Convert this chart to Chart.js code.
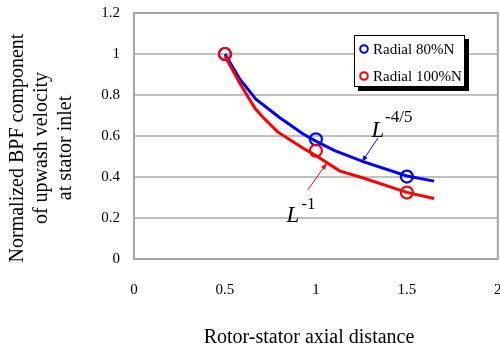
<!DOCTYPE html>
<html>
<head>
<meta charset="utf-8">
<script src="https://cdn.jsdelivr.net/npm/chart.js@4.4.1/dist/chart.umd.min.js"></script>
<style>
  html, body { margin: 0; padding: 0; background: #fff; overflow: hidden; }
  #wrap { width: 500px; height: 350px; overflow: hidden; }
</style>
</head>
<body>
<div id="wrap"><canvas id="chart" width="506" height="350"></canvas></div>
<script>
const blueX = [0.5, 0.58, 0.67, 0.80, 0.93, 1.0, 1.1, 1.26, 1.5, 1.65];
const blueY = [1.0, 0.88, 0.78, 0.69, 0.61, 0.575, 0.53, 0.475, 0.405, 0.38];
const redX = [0.5, 0.58, 0.665, 0.70, 0.79, 0.93, 1.0, 1.13, 1.26, 1.5, 1.65];
const redY = [0.99, 0.86, 0.735, 0.70, 0.62, 0.54, 0.505, 0.43, 0.395, 0.325, 0.295];

// measured points
const markX = [0.5, 1.0, 1.5];
const blueMarkY = [1.0, 0.584, 0.402];
const redMarkY = [1.0, 0.528, 0.324];

const legendLabels = ['Radial 80%N', 'Radial 100%N'];
const xTicks = [0, 0.5, 1, 1.5, 2];
const yTitle = ['Normalized BPF component', 'of upwash velocity', 'at stator inlet'];
const xTitle = 'Rotor-stator axial distance';

const BLUE = '#0000ff';
const RED = '#ff0000';
const SERIF = '"Liberation Serif", "Times New Roman", serif';

const pts = (xs, ys) => xs.map((x, i) => ({ x, y: ys[i] }));
const fmt = (v) => String(+Number(v).toFixed(1));
const noPad = (s) => { s.paddingLeft = 0; s.paddingRight = 0; s.paddingTop = 0; s.paddingBottom = 0; };

const extras = {
  id: 'extras',
  beforeDatasetsDraw(chart) {
    const { ctx, chartArea: a } = chart;
    ctx.save();
    ctx.strokeStyle = '#a6a6a6';
    ctx.lineWidth = 2;
    ctx.strokeRect(a.left, a.top, a.right - a.left, a.bottom - a.top);
    ctx.restore();
  },
  afterDraw(chart) {
    const { ctx } = chart;
    const xs = chart.scales.x, ys = chart.scales.y;
    const px = (v) => xs.getPixelForValue(v);
    const py = (v) => ys.getPixelForValue(v);
    ctx.save();

    // arrows
    const arrow = (x1, y1, x2, y2, color) => {
      const ax = px(x1), ay = py(y1), bx = px(x2), by = py(y2);
      ctx.strokeStyle = color;
      ctx.fillStyle = color;
      ctx.lineWidth = 1;
      ctx.beginPath();
      ctx.moveTo(ax, ay);
      ctx.lineTo(bx, by);
      ctx.stroke();
      const ang = Math.atan2(by - ay, bx - ax);
      ctx.beginPath();
      ctx.moveTo(bx, by);
      ctx.lineTo(bx - 7 * Math.cos(ang - 0.35), by - 7 * Math.sin(ang - 0.35));
      ctx.lineTo(bx - 7 * Math.cos(ang + 0.35), by - 7 * Math.sin(ang + 0.35));
      ctx.closePath();
      ctx.fill();
    };
    arrow(1.341, 0.59, 1.253, 0.473, BLUE);
    arrow(0.956, 0.337, 1.06, 0.468, RED);

    // L labels
    ctx.fillStyle = '#000';
    ctx.textBaseline = 'alphabetic';
    ctx.textAlign = 'left';
    ctx.font = 'italic 23px ' + SERIF;
    ctx.fillText('L', px(1.305), py(0.595));
    ctx.fillText('L', px(0.838), py(0.18));
    ctx.font = '17px ' + SERIF;
    ctx.fillText('-4/5', px(1.38), py(0.67));
    ctx.fillText('-1', px(0.92), py(0.245));

    // legend box with shadow
    const lx = 354, ly = 35, lw = 111, lh = 52;
    ctx.fillStyle = '#000';
    ctx.fillRect(lx + 4, ly + 4, lw, lh);
    ctx.fillStyle = '#fff';
    ctx.fillRect(lx, ly, lw, lh);
    ctx.strokeStyle = '#000';
    ctx.lineWidth = 1;
    ctx.strokeRect(lx + 0.5, ly + 0.5, lw - 1, lh - 1);
    ctx.font = '15px ' + SERIF;
    ctx.textBaseline = 'middle';
    [BLUE, RED].forEach((c, i) => {
      const yy = ly + 14 + i * 27;
      ctx.strokeStyle = c;
      ctx.lineWidth = 2;
      ctx.beginPath();
      ctx.arc(lx + 10, yy, 3.8, 0, Math.PI * 2);
      ctx.stroke();
      ctx.fillStyle = '#000';
      ctx.fillText(legendLabels[i], lx + 19, yy + 1);
    });

    // axis titles
    ctx.font = '20px ' + SERIF;
    ctx.textAlign = 'center';
    ctx.fillText(xTitle, 309, 338);
    ctx.translate(42, 148);
    ctx.rotate(-Math.PI / 2);
    yTitle.forEach((t, i) => ctx.fillText(t, 0, -24 + i * 24));
    ctx.restore();
  }
};

new Chart(document.getElementById('chart'), {
  type: 'scatter',
  data: {
    datasets: [
      { data: pts(markX, redMarkY), showLine: false, pointStyle: 'circle', pointRadius: 6,
        pointBorderWidth: 2.2, borderColor: RED, backgroundColor: 'transparent', order: 0 },
      { data: pts(markX, blueMarkY), showLine: false, pointStyle: 'circle', pointRadius: 6,
        pointBorderWidth: 2.2, borderColor: BLUE, backgroundColor: 'transparent', order: 1 },
      { data: pts(redX, redY), showLine: true, pointRadius: 0, borderColor: RED,
        borderWidth: 3, tension: 0, order: 2 },
      { data: pts(blueX, blueY), showLine: true, pointRadius: 0, borderColor: BLUE,
        borderWidth: 3, tension: 0, order: 3 }
    ]
  },
  options: {
    responsive: false,
    animation: false,
    layout: { padding: { top: 13, right: 0, left: 0, bottom: 0 } },
    plugins: { legend: { display: false }, tooltip: { enabled: false } },
    scales: {
      x: {
        type: 'linear', min: 0, max: 2,
        afterBuildTicks: (s) => { s.ticks = xTicks.map((v) => ({ value: v })); },
        afterFit: (s) => { s.height = 91; noPad(s); },
        grid: { display: false, drawTicks: false },
        border: { display: false },
        ticks: { color: '#000', font: { family: SERIF, size: 15 }, padding: 22, maxRotation: 0, callback: fmt }
      },
      y: {
        min: 0, max: 1.2,
        afterFit: (s) => { s.width = 134; noPad(s); },
        grid: { color: '#c0c0c0', lineWidth: 2, drawTicks: false },
        border: { display: false },
        ticks: { stepSize: 0.2, color: '#000', font: { family: SERIF, size: 15 }, padding: 14, callback: fmt }
      }
    }
  },
  plugins: [extras]
});
</script>
</body>
</html>
